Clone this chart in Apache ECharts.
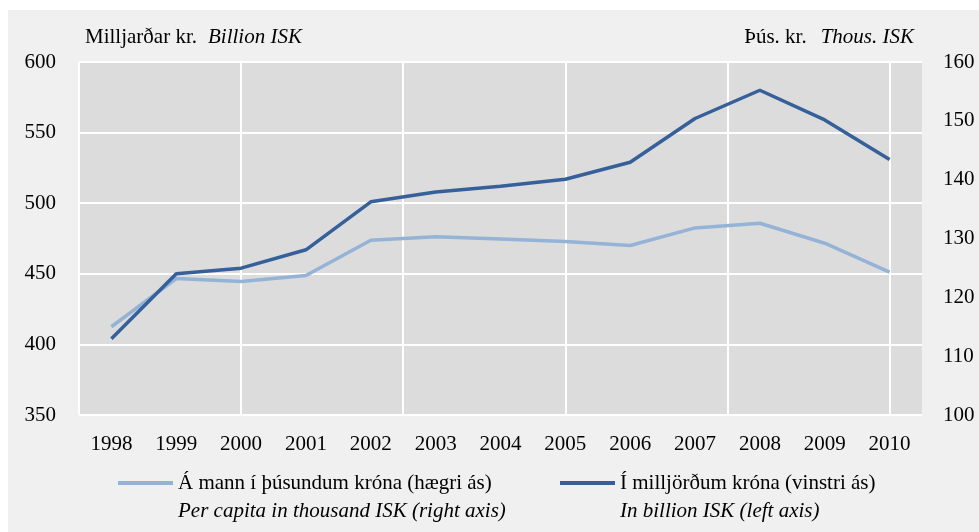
<!DOCTYPE html>
<html><head><meta charset="utf-8">
<style>
html,body{margin:0;padding:0;background:#ffffff;}
#bg{position:absolute;left:8px;top:10px;width:971px;height:522px;background:#f0f0f0;}
#c{position:absolute;left:0;top:0;width:979px;height:532px;}
</style>
<script src="https://cdn.jsdelivr.net/npm/echarts@6/dist/echarts.min.js"></script>
</head><body>
<div id="bg"></div>
<div id="c"></div>
<script>
const years = ['1998','1999','2000','2001','2002','2003','2004','2005','2006','2007','2008','2009','2010'];
const perCapita = [115.0, 123.2, 122.7, 123.7, 129.7, 130.3, 129.9, 129.5, 128.8, 131.8, 132.6, 129.2, 124.3];
const billions = [404, 450, 454, 467, 501, 508, 512, 517, 529, 560, 580, 559, 531];
const leftTicks = {min: 350, max: 600, interval: 50};
const rightTicks = {min: 100, max: 160, interval: 10};
// vertical gridlines every 2.5 category widths from the left edge
const vGrid = {min: 0, max: 12.5, interval: 2.5};

const FONT = '"Liberation Serif", "Times New Roman", serif';
const FS = 21;
const nameA = 'Á mann í þúsundum króna (hægri ás)';
const nameA2 = 'Per capita in thousand ISK (right axis)';
const nameB = 'Í milljörðum króna (vinstri ás)';
const nameB2 = 'In billion ISK (left axis)';
const cLight = '#95b3d7';
const cDark = '#36609a';

const W = 979, GL = 79, GR = 57;
const plotW = W - GL - GR;
const grid2Right = W - GL - plotW * vGrid.max / years.length;

const chart = echarts.init(document.getElementById('c'), null, {renderer: 'canvas'});
const legendBase = {
  top: 441, padding: 0, icon: 'rect', itemWidth: 55, itemHeight: 4, itemGap: 0,
  textStyle: {fontFamily: FONT, fontSize: FS, color: '#000', lineHeight: 28,
    rich: {a: {fontFamily: FONT, fontSize: FS, color: '#000', lineHeight: 28},
           b: {fontFamily: FONT, fontSize: FS, color: '#000', fontStyle: 'italic', lineHeight: 28}}},
  formatter: function (n) {
    if (n === nameA) return '\n{a|' + nameA + '}\n{b|' + nameA2 + '}';
    return '\n{a|' + nameB + '}\n{b|' + nameB2 + '}';
  }
};
chart.setOption({
  animation: false,
  backgroundColor: 'transparent',
  textStyle: {fontFamily: FONT},
  grid: [
    {left: GL, right: GR, top: 62, bottom: 117, show: true, backgroundColor: '#dcdcdc', borderWidth: 0, z: -1},
    {left: GL, right: grid2Right, top: 62, bottom: 117, show: false}
  ],
  graphic: [
    {type: 'text', left: 85, top: 27, style: {
      text: '{a|Milljarðar kr.}{b|Billion ISK}', fill: '#000',
      rich: {a: {fontFamily: FONT, fontSize: FS, fill: '#000'}, b: {fontFamily: FONT, fontSize: FS, fontStyle: 'italic', fill: '#000', padding: [0, 0, 0, 11]}}}},
    {type: 'text', right: 65, top: 27, style: {
      text: '{a|Þús. kr.}{b|Thous. ISK}', fill: '#000',
      rich: {a: {fontFamily: FONT, fontSize: FS, fill: '#000'}, b: {fontFamily: FONT, fontSize: FS, fontStyle: 'italic', fill: '#000', padding: [0, 0, 0, 14]}}}}
  ],
  legend: [
    Object.assign({}, legendBase, {left: 118, data: [nameA]}),
    Object.assign({}, legendBase, {left: 560, data: [nameB]})
  ],
  xAxis: [
    {type: 'category', gridIndex: 0, data: years, boundaryGap: true,
     axisLine: {show: false}, axisTick: {show: false}, splitLine: {show: false},
     axisLabel: {fontFamily: FONT, fontSize: FS, color: '#000', margin: 19}},
    {type: 'value', gridIndex: 1, min: vGrid.min, max: vGrid.max, interval: vGrid.interval, z: 1,
     axisLine: {show: false}, axisTick: {show: false}, axisLabel: {show: false},
     splitLine: {show: true, lineStyle: {color: '#ffffff', width: 2}}}
  ],
  yAxis: [
    {type: 'value', gridIndex: 0, min: leftTicks.min, max: leftTicks.max, interval: leftTicks.interval, position: 'left',
     axisLine: {show: false}, axisTick: {show: false},
     axisLabel: {fontFamily: FONT, fontSize: FS, color: '#000', margin: 23},
     splitLine: {show: true, lineStyle: {color: '#ffffff', width: 2}}},
    {type: 'value', gridIndex: 0, min: rightTicks.min, max: rightTicks.max, interval: rightTicks.interval, position: 'right',
     axisLine: {show: false}, axisTick: {show: false},
     axisLabel: {fontFamily: FONT, fontSize: FS, color: '#000', margin: 21},
     splitLine: {show: false}},
    {type: 'value', gridIndex: 1, min: 0, max: 1, show: false, splitLine: {show: false}}
  ],
  series: [
    {name: nameA, type: 'line', xAxisIndex: 0, yAxisIndex: 1, data: perCapita, symbol: 'none',
     lineStyle: {color: cLight, width: 3.5}, itemStyle: {color: cLight}, z: 3},
    {name: nameB, type: 'line', xAxisIndex: 0, yAxisIndex: 0, data: billions, symbol: 'none',
     lineStyle: {color: cDark, width: 3.5}, itemStyle: {color: cDark}, z: 4}
  ]
});
</script>
</body></html>
